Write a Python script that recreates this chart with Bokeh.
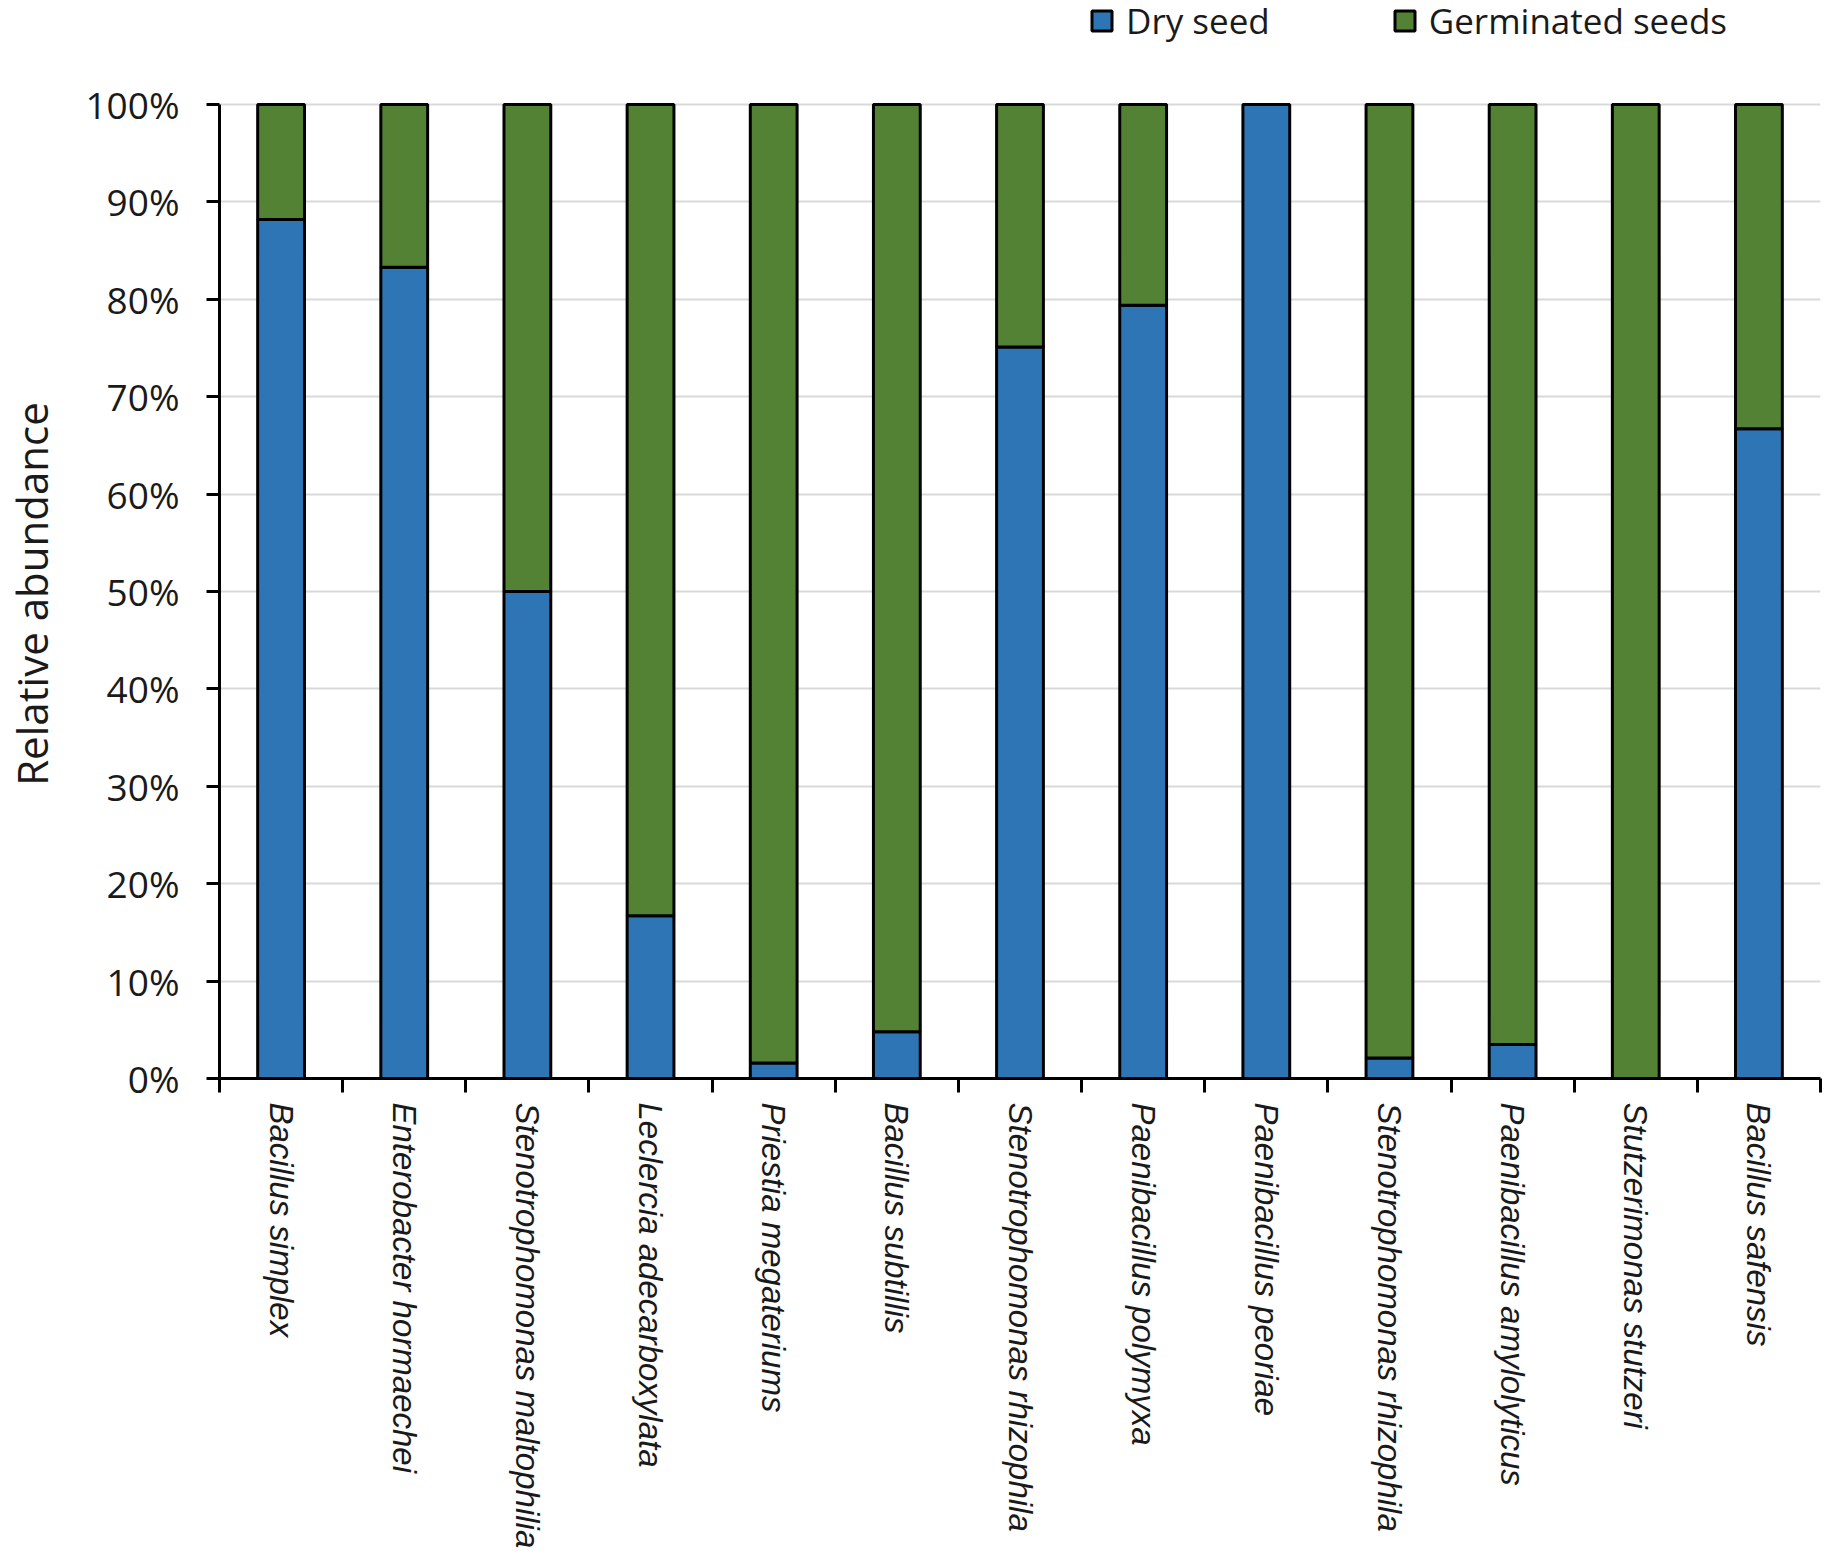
from bokeh.plotting import figure
from bokeh.models import Range1d, FixedTicker, NumeralTickFormatter
from bokeh.embed import file_html
from bokeh.resources import INLINE

categories = [
    "Bacillus simplex",
    "Enterobacter hormaechei",
    "Stenotrophomonas maltophilia",
    "Leclercia adecarboxylata",
    "Priestia megateriums",
    "Bacillus subtillis",
    "Stenotrophomonas rhizophila",
    "Paenibacillus polymyxa",
    "Paenibacillus peoriae",
    "Stenotrophomonas rhizophila",
    "Paenibacillus amylolyticus",
    "Stutzerimonas stutzeri",
    "Bacillus safensis",
]
dry_seed = [88.2, 83.3, 50.0, 16.7, 1.6, 4.8, 75.1, 79.4, 100.0, 2.1, 3.5, 0.0, 66.7]
germinated_seeds = [100.0 - v for v in dry_seed]
y_ticks = [0.0, 0.1, 0.2, 0.3, 0.4, 0.5, 0.6, 0.7, 0.8, 0.9, 1.0]
y_title = "Relative abundance"

BLUE = "#2E75B6"
GREEN = "#548235"
TXT = "#1a1a1a"

n = len(categories)
xs = [i + 0.5 for i in range(n)]
data = dict(
    x=xs,
    dry=[v / 100.0 for v in dry_seed],
    germ=[v / 100.0 for v in germinated_seeds],
)

# frame reaches to the top of the figure; the space above 100% holds the legend
Y_TOP = 1.0 + 104.0 / 974.0

p = figure(
    frame_width=1601, frame_height=1078,
    x_range=Range1d(0, n), y_range=Range1d(0, Y_TOP),
    output_backend="svg", toolbar_location=None,
    min_border_left=218, min_border_top=0, min_border_bottom=490, min_border_right=5,
)
p.outline_line_color = None
p.background_fill_color = "white"
p.border_fill_color = "white"

p.vbar_stack(["dry", "germ"], x="x", width=0.38, source=data,
             fill_color=[BLUE, GREEN], line_color="black", line_width=3,
             legend_label=["Dry seed", "Germinated seeds"])

# grid
p.xgrid.visible = False
p.ygrid.grid_line_color = "#d9d9d9"
p.ygrid.grid_line_width = 2
p.ygrid.ticker = FixedTicker(ticks=y_ticks)

# y axis
ya = p.yaxis[0]
ya.ticker = FixedTicker(ticks=y_ticks)
ya.bounds = (0, 1)
ya.formatter = NumeralTickFormatter(format="0%")
ya.axis_line_width = 3
ya.axis_line_color = "black"
ya.major_tick_line_width = 3
ya.major_tick_line_color = "black"
ya.major_tick_out = 13
ya.major_tick_in = 0
ya.minor_tick_line_color = None
ya.major_label_standoff = 27
ya.major_label_text_font = "Open Sans"
ya.major_label_text_font_size = "37px"
ya.major_label_text_color = TXT
# trailing no-break spaces centre the visible title on the 0-100% span
ya.axis_label = y_title + "\u00a0" * 10
ya.axis_label_text_font = "Open Sans"
ya.axis_label_text_font_size = "42px"
ya.axis_label_text_font_style = "normal"
ya.axis_label_text_color = TXT
ya.axis_label_text_line_height = 0.8
ya.axis_label_standoff = 22

# x axis
xa = p.xaxis[0]
xa.ticker = FixedTicker(ticks=xs, minor_ticks=list(range(n + 1)))
xa.major_label_overrides = {x: c for x, c in zip(xs, categories)}
xa.major_label_orientation = "vertical"
xa.axis_line_width = 3
xa.axis_line_color = "black"
xa.major_tick_out = 0
xa.major_tick_in = 0
xa.major_tick_line_color = None
xa.minor_tick_out = 14
xa.minor_tick_in = 0
xa.minor_tick_line_width = 3
xa.minor_tick_line_color = "black"
xa.major_label_standoff = 10
xa.major_label_text_font = "Liberation Sans"
xa.major_label_text_font_size = "33px"
xa.major_label_text_font_style = "italic"
xa.major_label_text_color = TXT

# legend
lg = p.legend[0]
lg.orientation = "horizontal"
lg.location = (870, 1034)
lg.padding = 0
lg.margin = 0
lg.border_line_color = None
lg.background_fill_alpha = 0
lg.glyph_width = 25
lg.glyph_height = 25
lg.label_standoff = 12
lg.spacing = 122
lg.label_height = 25
lg.label_text_font = "Open Sans"
lg.label_text_font_size = "35px"
lg.label_text_color = TXT
lg.label_text_line_height = 1.0

open("out.html", "w").write(file_html(p, INLINE))
